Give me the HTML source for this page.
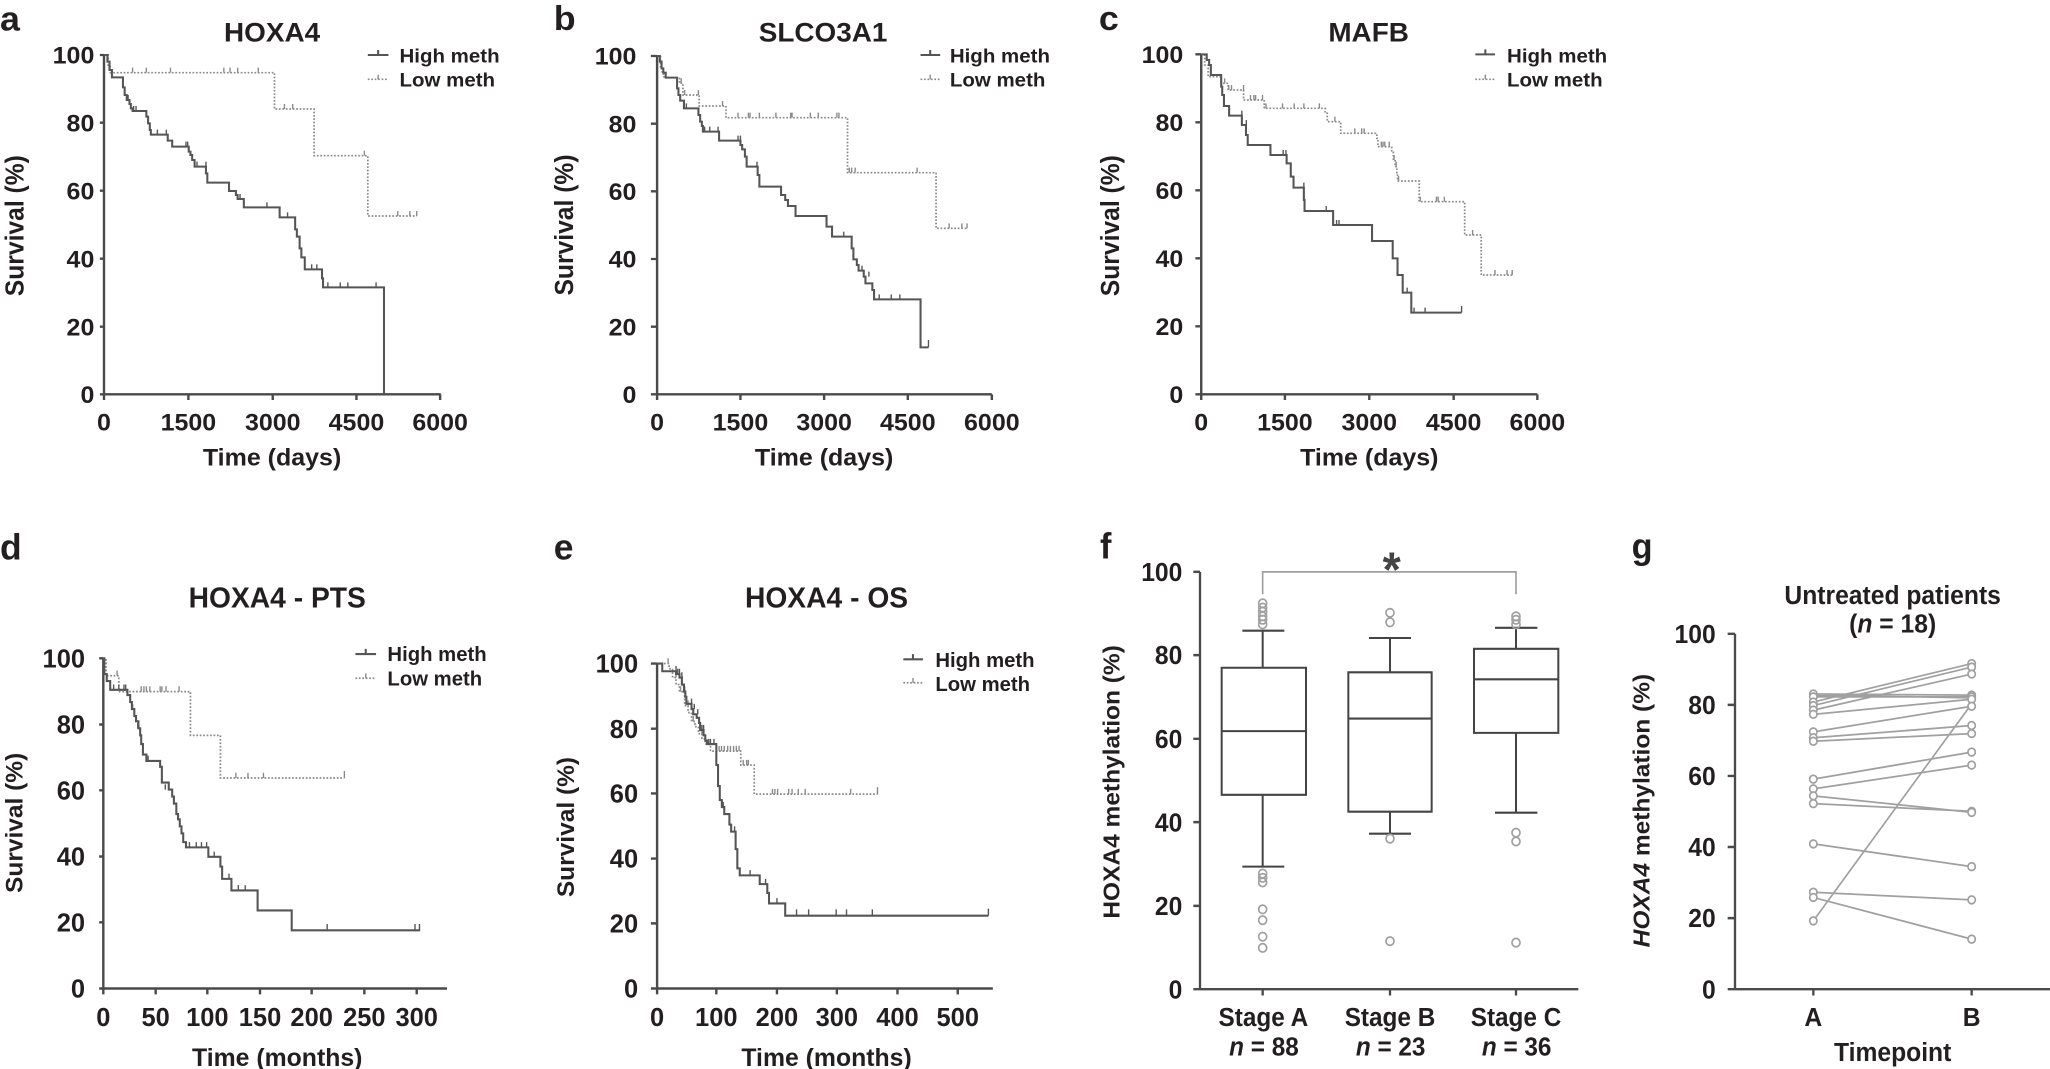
<!DOCTYPE html>
<html><head><meta charset="utf-8"><style>
html,body{margin:0;padding:0;background:#fff;}
svg{display:block;}
text{font-family:"Liberation Sans",Arial,sans-serif;font-weight:bold;fill:#231f20;}
.ax{stroke:#4a4a4a;stroke-width:7;fill:none;}
.hi{stroke:#555;stroke-width:6;fill:none;}
.lo{stroke:#8a8a8a;stroke-width:5;fill:none;stroke-dasharray:5 5;}
.ct{stroke:#555;stroke-width:4;fill:none;}
.cl{stroke:#8a8a8a;stroke-width:4;fill:none;}
.bx{stroke:#444;stroke-width:6;fill:none;}
.gr{stroke:#a0a0a0;stroke-width:5;fill:none;}
.gc{stroke:#a0a0a0;stroke-width:5;fill:#fff;}
</style></head><body>
<svg width="2050" height="1069" viewBox="0 0 2050 1069" xmlns="http://www.w3.org/2000/svg">
<rect width="2050" height="1069" fill="#fff"/>

<!-- Panel a -->
<g transform="scale(0.34439,0.33333)">
<text x="0" y="92" font-size="104">a</text>
<text x="790" y="125" font-size="81" text-anchor="middle">HOXA4</text>
<path class="ax" d="M302 165V1183M290 1183H1280M290 165H302M290 368H302M290 572H302M290 776H302M290 980H302M302 1183V1200M547 1183V1200M792 1183V1200M1035 1183V1200M1278 1183V1200"/>
<g font-size="72.6" text-anchor="end"><text x="274" y="191">100</text><text x="274" y="394">80</text><text x="274" y="598">60</text><text x="274" y="802">40</text><text x="274" y="1006">20</text><text x="274" y="1209">0</text></g>
<g font-size="72.6" text-anchor="middle"><text x="302" y="1292">0</text><text x="547" y="1292">1500</text><text x="792" y="1292">3000</text><text x="1035" y="1292">4500</text><text x="1278" y="1292">6000</text></g>
<text x="790" y="1397" font-size="72.6" text-anchor="middle">Time (days)</text>
<text transform="translate(68,677) rotate(-90)" font-size="74" text-anchor="middle">Survival (%)</text>
<path class="hi" d="M1068 165H1128M1098 165V150"/><text x="1160" y="187" font-size="59.5">High meth</text>
<path class="lo" d="M1068 238H1128"/><path class="cl" d="M1098 238V224"/><text x="1160" y="260" font-size="59.5">Low meth</text>
<path class="lo" d="M302 165H314V195H320V218H797V327H912V467H1068V648H1210"/>
<path class="cl" d="M385 218v-15M425 218v-15M495 218v-15M650 218v-15M668 218v-15M690 218v-15M750 218v-15M826 327v-15M850 327v-15M1058 467v-15M1155 648v-15M1190 648v-15M1210 648v-15"/>
<path class="hi" d="M302 165H312V185H318V210H325V232H357V262H362V285H368V300H376V312H380V325H385V333H425V350H430V370H435V390H438V404H487V422H500V440H548V455H553V465H558V480H565V500H598V520H602V548H665V573H685V585H690V597H708V622H812V652H857V688H862V710H870V745H875V772H885V808H935V835H938V862H1115V1183"/>
<path class="ct" d="M372 300v-15M388 333v-15M395 333v-15M457 404v-15M483 404v-15M540 440v-15M545 440v-15M572 500v-15M598 500v-15M690 597v-15M697 597v-15M775 622v-15M835 652v-15M905 808v-15M920 808v-15M952 862v-15M988 862v-15M1010 862v-15M1092 862v-15"/>
</g>

<!-- Panel b -->
<g transform="translate(540,0) scale(0.34439,0.33333)">
<text x="40" y="90" font-size="104">b</text>
<text x="822" y="125" font-size="81" text-anchor="middle">SLCO3A1</text>
<path class="ax" d="M340 168V1183M322 1183H1312M322 168H340M322 371H340M322 574H340M322 777H340M322 980H340M340 1183V1200M582 1183V1200M825 1183V1200M1068 1183V1200M1312 1183V1200"/>
<g font-size="72.6" text-anchor="end"><text x="280" y="194">100</text><text x="280" y="397">80</text><text x="280" y="600">60</text><text x="280" y="803">40</text><text x="280" y="1006">20</text><text x="280" y="1209">0</text></g>
<g font-size="72.6" text-anchor="middle"><text x="340" y="1292">0</text><text x="582" y="1292">1500</text><text x="825" y="1292">3000</text><text x="1068" y="1292">4500</text><text x="1312" y="1292">6000</text></g>
<text x="825" y="1397" font-size="72.6" text-anchor="middle">Time (days)</text>
<text transform="translate(96,675) rotate(-90)" font-size="74" text-anchor="middle">Survival (%)</text>
<path class="hi" d="M1105 165H1162M1133 165V150"/><text x="1190" y="187" font-size="59.5">High meth</text>
<path class="lo" d="M1105 238H1162"/><path class="cl" d="M1133 238V224"/><text x="1190" y="260" font-size="59.5">Low meth</text>
<path class="lo" d="M340 168H350V200H355V222H360V233H405V250H415V285H462V318H540V353H893V518H1150V685H1243"/>
<path class="cl" d="M410 250v-15M420 285v-15M460 285v-15M530 318v-15M575 353v-15M605 353v-15M610 353v-15M637 353v-15M685 353v-15M728 353v-15M732 353v-15M785 353v-15M808 353v-15M862 353v-15M868 353v-15M898 518v-15M905 518v-15M915 518v-15M1095 518v-15M1188 685v-15M1225 685v-15M1240 685v-15"/>
<path class="hi" d="M340 168H348V185H353V205H358V218H365V233H398V265H402V285H407V302H418V325H460V345H465V365H470V378H473V395H520V422H582V435H587V448H595V470H600V500H632V525H637V560H700V585H712V600H720V618H742V648H832V680H848V710H905V745H910V778H920V795H925V812H940V830H945V850H965V870H970V898H1105V1042H1128"/>
<path class="ct" d="M425 325v-15M478 395v-15M493 395v-15M517 395v-15M575 422v-15M582 422v-15M630 500v-15M720 618v-15M882 710v-15M935 812v-15M955 830v-15M985 898v-15M1020 898v-15M1045 898v-15M1128 1042v-22"/>
</g>

<!-- Panel c -->
<g transform="translate(1080,0) scale(0.34439,0.33333)">
<text x="55" y="90" font-size="104">c</text>
<text x="838" y="125" font-size="81" text-anchor="middle">MAFB</text>
<path class="ax" d="M352 163V1183M335 1183H1328M335 163H352M335 367H352M335 571H352M335 775H352M335 979H352M352 1183V1200M595 1183V1200M840 1183V1200M1085 1183V1200M1328 1183V1200"/>
<g font-size="72.6" text-anchor="end"><text x="300" y="189">100</text><text x="300" y="393">80</text><text x="300" y="597">60</text><text x="300" y="801">40</text><text x="300" y="1005">20</text><text x="300" y="1209">0</text></g>
<g font-size="72.6" text-anchor="middle"><text x="352" y="1292">0</text><text x="595" y="1292">1500</text><text x="840" y="1292">3000</text><text x="1085" y="1292">4500</text><text x="1328" y="1292">6000</text></g>
<text x="840" y="1397" font-size="72.6" text-anchor="middle">Time (days)</text>
<text transform="translate(113,677) rotate(-90)" font-size="74" text-anchor="middle">Survival (%)</text>
<path class="hi" d="M1148 163H1205M1177 163V148"/><text x="1240" y="187" font-size="59.5">High meth</text>
<path class="lo" d="M1148 238H1205"/><path class="cl" d="M1177 238V224"/><text x="1240" y="260" font-size="59.5">Low meth</text>
<path class="lo" d="M352 163H362V195H372V230H410V250H430V270H475V300H535V325H712V340H718V365H757V400H862V415H865V440H905V455H910V480H915V500H920V520H922V543H985V605H1117V705H1165V825H1258"/>
<path class="cl" d="M420 250v-15M432 270v-15M440 270v-15M475 270v-15M495 300v-15M505 300v-15M510 300v-15M530 300v-15M540 325v-15M588 325v-15M622 325v-15M650 325v-15M695 325v-15M740 365v-15M798 400v-15M818 400v-15M825 400v-15M875 440v-15M880 440v-15M885 440v-15M898 440v-15M912 480v-15M918 500v-15M925 543v-15M988 605v-15M1035 605v-15M1040 605v-15M1058 605v-15M1140 705v-15M1205 825v-15M1240 825v-15M1255 825v-15"/>
<path class="hi" d="M352 163H368V180H375V195H380V225H410V260H413V285H418V318H433V347H470V375H482V405H487V435H553V465H600V490H612V530H620V563H650V600H652V633H735V675H848V723H908V775H922V825H937V878H962V938H1108"/>
<path class="ct" d="M470 347v-15M483 375v-15M590 465v-15M598 465v-15M650 563v-15M715 633v-15M735 675v-15M745 675v-15M752 675v-15M950 878v-15M970 938v-15M1002 938v-15M1108 938v-20"/>
</g>

<!-- Panel d -->
<g transform="translate(0,520) scale(0.34439,0.35013)">
<text x="0" y="113" font-size="103">d</text>
<text x="805" y="250" font-size="82" text-anchor="middle">HOXA4 - PTS</text>
<path class="ax" d="M300 395V1338M288 1338H1298M288 395H300M288 584H300M288 772H300M288 961H300M288 1149H300M300 1338V1355M452 1338V1355M602 1338V1355M755 1338V1355M905 1338V1355M1058 1338V1355M1210 1338V1355"/>
<g font-size="74" text-anchor="end"><text x="247" y="421">100</text><text x="247" y="610">80</text><text x="247" y="798">60</text><text x="247" y="987">40</text><text x="247" y="1175">20</text><text x="247" y="1364">0</text></g>
<g font-size="74" text-anchor="middle"><text x="300" y="1445">0</text><text x="452" y="1445">50</text><text x="602" y="1445">100</text><text x="755" y="1445">150</text><text x="905" y="1445">200</text><text x="1058" y="1445">250</text><text x="1210" y="1445">300</text></g>
<text x="805" y="1560" font-size="72" text-anchor="middle">Time (months)</text>
<text transform="translate(66,865) rotate(-90)" font-size="70" text-anchor="middle">Survival (%)</text>
<path class="hi" d="M1032 383H1092M1062 383V368"/><text x="1125" y="403" font-size="59">High meth</text>
<path class="lo" d="M1032 452H1092"/><path class="cl" d="M1062 452V438"/><text x="1125" y="472" font-size="59">Low meth</text>
<path class="lo" d="M300 395H308V445H345V490H553V615H640V737H1000"/>
<path class="cl" d="M340 445v-15M410 490v-15M418 490v-15M425 490v-15M435 490v-15M465 490v-15M470 490v-15M482 490v-15M520 490v-15M685 737v-15M720 737v-15M765 737v-15M1000 737v-20"/>
<path class="hi" d="M300 395H303V440H310V460H320V485H370V500H378V520H383V540H390V560H395V575H402V595H407V615H410V640H415V670H425V688H465V705H470V750H490V770H500V790H505V810H512V840H517V855H522V875H527V895H532V920H540V935H605V962H640V990H645V1025H672V1058H748V1115H847V1172H1220"/>
<path class="ct" d="M330 485v-15M345 485v-15M360 485v-15M365 485v-15M385 540v-15M400 595v-15M415 670v-15M430 688v-15M470 750v-15M480 770v-15M550 935v-15M570 935v-15M585 935v-15M600 935v-15M622 962v-15M665 1025v-15M692 1058v-15M712 1058v-15M950 1172v-18M1205 1172v-18M1218 1172v-18"/>
</g>

<!-- Panel e -->
<g transform="translate(540,520) scale(0.34439,0.35013)">
<text x="40" y="113" font-size="103">e</text>
<text x="832" y="250" font-size="82" text-anchor="middle">HOXA4 - OS</text>
<path class="ax" d="M340 410V1338M322 1338H1315M322 410H340M322 596H340M322 781H340M322 967H340M322 1152H340M340 1338V1355M512 1338V1355M688 1338V1355M862 1338V1355M1038 1338V1355M1213 1338V1355"/>
<g font-size="74" text-anchor="end"><text x="285" y="436">100</text><text x="285" y="622">80</text><text x="285" y="807">60</text><text x="285" y="993">40</text><text x="285" y="1178">20</text><text x="285" y="1364">0</text></g>
<g font-size="74" text-anchor="middle"><text x="340" y="1445">0</text><text x="512" y="1445">100</text><text x="688" y="1445">200</text><text x="862" y="1445">300</text><text x="1038" y="1445">400</text><text x="1213" y="1445">500</text></g>
<text x="832" y="1560" font-size="72" text-anchor="middle">Time (months)</text>
<text transform="translate(98,877) rotate(-90)" font-size="70" text-anchor="middle">Survival (%)</text>
<path class="hi" d="M1055 398H1112M1083 398V383"/><text x="1148" y="420" font-size="59">High meth</text>
<path class="lo" d="M1055 465H1112"/><path class="cl" d="M1083 465V451"/><text x="1148" y="488" font-size="59">Low meth</text>
<path class="lo" d="M340 410H375V425H385V450H395V470H405V490H420V530H430V550H440V575H450V590H460V610H470V625H480V640H495V660H583V700H622V783H980"/>
<path class="cl" d="M372 410v-15M395 450v-15M408 490v-15M430 530v-15M445 575v-15M470 610v-15M520 660v-15M527 660v-15M535 660v-15M545 660v-15M553 660v-15M562 660v-15M570 660v-15M578 660v-15M590 700v-15M600 700v-15M605 700v-15M675 783v-15M682 783v-15M690 783v-15M722 783v-15M732 783v-15M750 783v-15M770 783v-15M902 783v-15M980 783v-20"/>
<path class="hi" d="M340 410H355V432H395V440H405V450H412V470H418V490H422V505H425V525H440V540H445V555H455V565H462V580H465V600H475V615H480V630H485V640H512V700H517V760H522V800H528V820H535V840H550V870H555V890H568V940H573V995H580V1015H638V1040H660V1065H665V1095H712V1130H1302"/>
<path class="ct" d="M395 432v-15M400 440v-15M405 440v-15M412 450v-15M420 490v-15M440 525v-15M448 540v-15M458 555v-15M470 600v-15M475 600v-15M490 640v-15M495 640v-15M505 640v-15M532 820v-15M565 890v-15M610 1015v-15M655 1040v-15M688 1095v-15M745 1130v-18M780 1130v-18M860 1130v-18M890 1130v-18M965 1130v-18M1302 1130v-20"/>
</g>

<!-- Panel f -->
<g transform="translate(1080,520) scale(0.33333,0.35013)">
<text x="60" y="110" font-size="103">f</text>
<path class="gr" d="M548 212V148H1308V212"/>
<text x="935" y="190" font-size="140" text-anchor="middle" style="fill:#444">*</text>
<path class="ax" d="M360 148V1340M340 1340H1495M340 148H360M340 386H360M340 625H360M340 863H360M340 1102H360M548 1340V1358M930 1340V1358M1308 1340V1358"/>
<g font-size="74" text-anchor="end"><text x="307" y="174">100</text><text x="307" y="412">80</text><text x="307" y="651">60</text><text x="307" y="889">40</text><text x="307" y="1128">20</text><text x="307" y="1366">0</text></g>
<g font-size="73" text-anchor="middle"><text x="550" y="1445">Stage A</text><text x="930" y="1445">Stage B</text><text x="1308" y="1445">Stage C</text>
<text x="552" y="1530"><tspan font-style="italic">n</tspan> = 88</text><text x="932" y="1530"><tspan font-style="italic">n</tspan> = 23</text><text x="1310" y="1530"><tspan font-style="italic">n</tspan> = 36</text></g>
<text transform="translate(118,748) rotate(-90)" font-size="70" text-anchor="middle">HOXA4 methylation (%)</text>
<path class="bx" d="M425 422H678V785H425ZM425 603H678M548 316V422M548 785V990M487 316H613M487 990H613"/>
<path class="bx" d="M805 435H1055V833H805ZM805 567H1055M930 337V435M930 833V896M867 337H993M867 896H993"/>
<path class="bx" d="M1182 368H1435V608H1182ZM1182 455H1435M1308 308V368M1308 608V836M1245 308H1372M1245 836H1372"/>
<g class="gr">
<circle cx="548" cy="238" r="12"/><circle cx="548" cy="250" r="12"/><circle cx="548" cy="262" r="12"/><circle cx="548" cy="275" r="12"/><circle cx="548" cy="285" r="12"/><circle cx="548" cy="298" r="12"/>
<circle cx="548" cy="1010" r="12"/><circle cx="548" cy="1022" r="12"/><circle cx="548" cy="1035" r="12"/><circle cx="548" cy="1112" r="12"/><circle cx="548" cy="1143" r="12"/><circle cx="548" cy="1190" r="12"/><circle cx="548" cy="1222" r="12"/>
<circle cx="930" cy="265" r="12"/><circle cx="930" cy="292" r="12"/><circle cx="930" cy="910" r="12"/><circle cx="930" cy="1203" r="12"/>
<circle cx="1308" cy="275" r="12"/><circle cx="1308" cy="285" r="12"/><circle cx="1308" cy="298" r="12"/><circle cx="1308" cy="893" r="12"/><circle cx="1308" cy="918" r="12"/><circle cx="1308" cy="1207" r="12"/>
</g>
</g>

<!-- Panel g -->
<g transform="translate(1600,520) scale(0.33333,0.35013)">
<text x="95" y="110" font-size="103">g</text>
<text x="878" y="240" font-size="74" text-anchor="middle">Untreated patients</text>
<text x="878" y="322" font-size="74" text-anchor="middle">(<tspan font-style="italic">n</tspan> = 18)</text>
<path class="ax" d="M405 325V1340M383 1340H1350M383 325H405M383 528H405M383 731H405M383 934H405M383 1137H405M640 1340V1358M1115 1340V1358"/>
<g font-size="74" text-anchor="end"><text x="347" y="351">100</text><text x="347" y="554">80</text><text x="347" y="757">60</text><text x="347" y="960">40</text><text x="347" y="1163">20</text><text x="347" y="1366">0</text></g>
<g font-size="74" text-anchor="middle"><text x="640" y="1445">A</text><text x="1115" y="1445">B</text></g>
<text x="878" y="1545" font-size="74" text-anchor="middle">Timepoint</text>
<text transform="translate(148,830) rotate(-90)" font-size="70" text-anchor="middle"><tspan font-style="italic">HOXA4</tspan> methylation (%)</text>
<path class="gr" d="M640 497L1115 500M640 500L1115 508M640 505L1115 505M640 520L1115 410M640 530L1115 420M640 543L1115 440M640 555L1115 512M640 605L1115 532M640 622L1115 587M640 632L1115 610M640 740L1115 663M640 768L1115 700M640 788L1115 835M640 810L1115 832M640 925L1115 990M640 1063L1115 1085M640 1078L1115 1197M640 1145L1115 525"/>
<g class="gc">
<circle cx="640" cy="497" r="11"/><circle cx="640" cy="505" r="11"/><circle cx="640" cy="520" r="11"/><circle cx="640" cy="530" r="11"/><circle cx="640" cy="543" r="11"/><circle cx="640" cy="555" r="11"/><circle cx="640" cy="605" r="11"/><circle cx="640" cy="622" r="11"/><circle cx="640" cy="632" r="11"/><circle cx="640" cy="740" r="11"/><circle cx="640" cy="768" r="11"/><circle cx="640" cy="788" r="11"/><circle cx="640" cy="810" r="11"/><circle cx="640" cy="925" r="11"/><circle cx="640" cy="1063" r="11"/><circle cx="640" cy="1078" r="11"/><circle cx="640" cy="1145" r="11"/>
<circle cx="1115" cy="410" r="11"/><circle cx="1115" cy="420" r="11"/><circle cx="1115" cy="440" r="11"/><circle cx="1115" cy="500" r="11"/><circle cx="1115" cy="505" r="11"/><circle cx="1115" cy="512" r="11"/><circle cx="1115" cy="532" r="11"/><circle cx="1115" cy="587" r="11"/><circle cx="1115" cy="610" r="11"/><circle cx="1115" cy="663" r="11"/><circle cx="1115" cy="700" r="11"/><circle cx="1115" cy="832" r="11"/><circle cx="1115" cy="835" r="11"/><circle cx="1115" cy="990" r="11"/><circle cx="1115" cy="1085" r="11"/><circle cx="1115" cy="1197" r="11"/>
</g>
</g>
</svg>
</body></html>
